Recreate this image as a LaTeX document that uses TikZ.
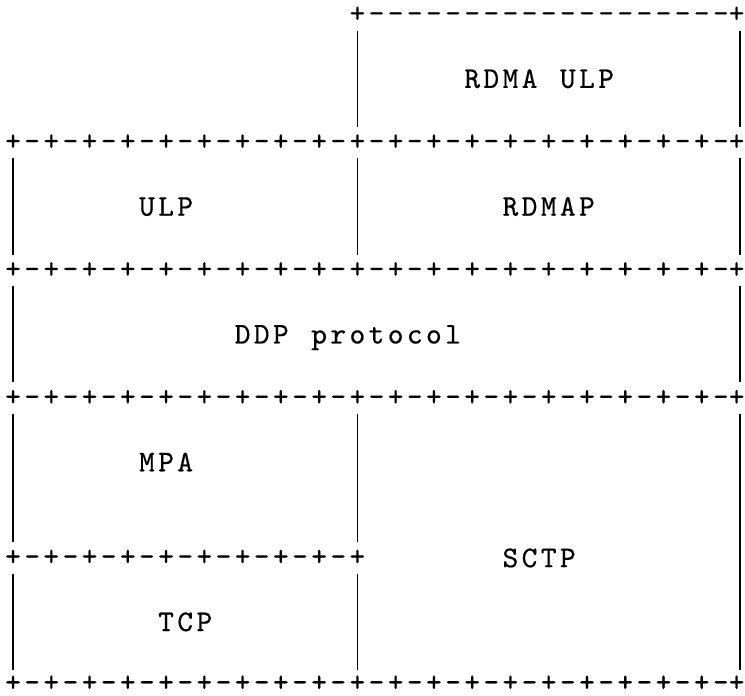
\documentclass[tikz,border=0pt]{standalone}
\usepackage{fontspec}
\newfontfamily\asciifont{lmmono10-regular.otf}[LetterSpace=11.27,FakeBold=0.5]
\newlength\cw
\setlength\cw{19.13pt}
\begin{document}
\begin{tikzpicture}[x=1pt,y=1pt,
  glyph/.style={inner sep=0pt, outer sep=0pt, anchor=base west,
    font=\asciifont\fontsize{30}{32}\selectfont},
  bar/.style={line width=1.5pt, black}]
\useasboundingbox (0,0) rectangle (745,696);
\def\pd{+-}
\def\pdfive{\pd\pd\pd\pd\pd}
\def\dfive{-----}
% ---- rows of + and - ----
\node[glyph] (row0)  at ({5.19+19.13*18},{696-22.5}) {+\dfive\dfive\dfive----\rlap{+}};
\node[glyph] (row4)  at ({5.19},{696-22.5-31.95*4})  {\pdfive\pdfive\pdfive\pd\pd\pd\pd\rlap{+}};
\node[glyph] (row8)  at ({5.19},{696-22.5-31.95*8})  {\pdfive\pdfive\pdfive\pd\pd\pd\pd\rlap{+}};
\node[glyph] (row12) at ({5.19},{696-22.5-31.95*12}) {\pdfive\pdfive\pdfive\pd\pd\pd\pd\rlap{+}};
\node[glyph] (row17) at ({5.19},{696-22.5-31.95*17}) {\pdfive\pd\pd\pd\pd+};
\node[glyph] (row21) at ({5.19},{696-20.5-31.95*21}) {\smash{\pdfive\pdfive\pdfive\pd\pd\pd\pd\rlap{+}}};
% ---- labels ----
\node[glyph] (rdmaulp) at ({5.19+19.13*24},{696-24-31.95*2})  {\makebox[5\cw][l]{RDMA}ULP};
\node[glyph] (ulp)     at ({5.19+19.13*7}, {696-24-31.95*6})  {ULP};
\node[glyph] (rdmap)   at ({5.19+19.13*26},{696-24-31.95*6})  {RDMAP};
\node[glyph] (ddp)     at ({5.19+19.13*12},{696-24-31.95*10}) {\makebox[4\cw][l]{DDP}protocol};
\node[glyph] (mpa)     at ({5.19+19.13*7}, {696-24-31.95*14}) {MPA};
\node[glyph] (sctp)    at ({5.19+19.13*26},{696-24-31.95*17}) {SCTP};
\node[glyph] (tcp)     at ({5.19+19.13*8}, {696-24-31.95*19}) {TCP};
% ---- vertical bars ----
\foreach \c/\ya/\yb in {18/31.5/127, 38/31.5/127,
                        0/158.5/255, 18/158.5/255, 38/158.5/255,
                        0/286/382, 38/286/382,
                        0/414/542, 18/414/542, 38/414/670,
                        0/574/670, 18/574/670}
  \draw[bar] ({13.07+19.13*\c},{696-\ya}) -- ({13.07+19.13*\c},{696-\yb});
\end{tikzpicture}
\end{document}
